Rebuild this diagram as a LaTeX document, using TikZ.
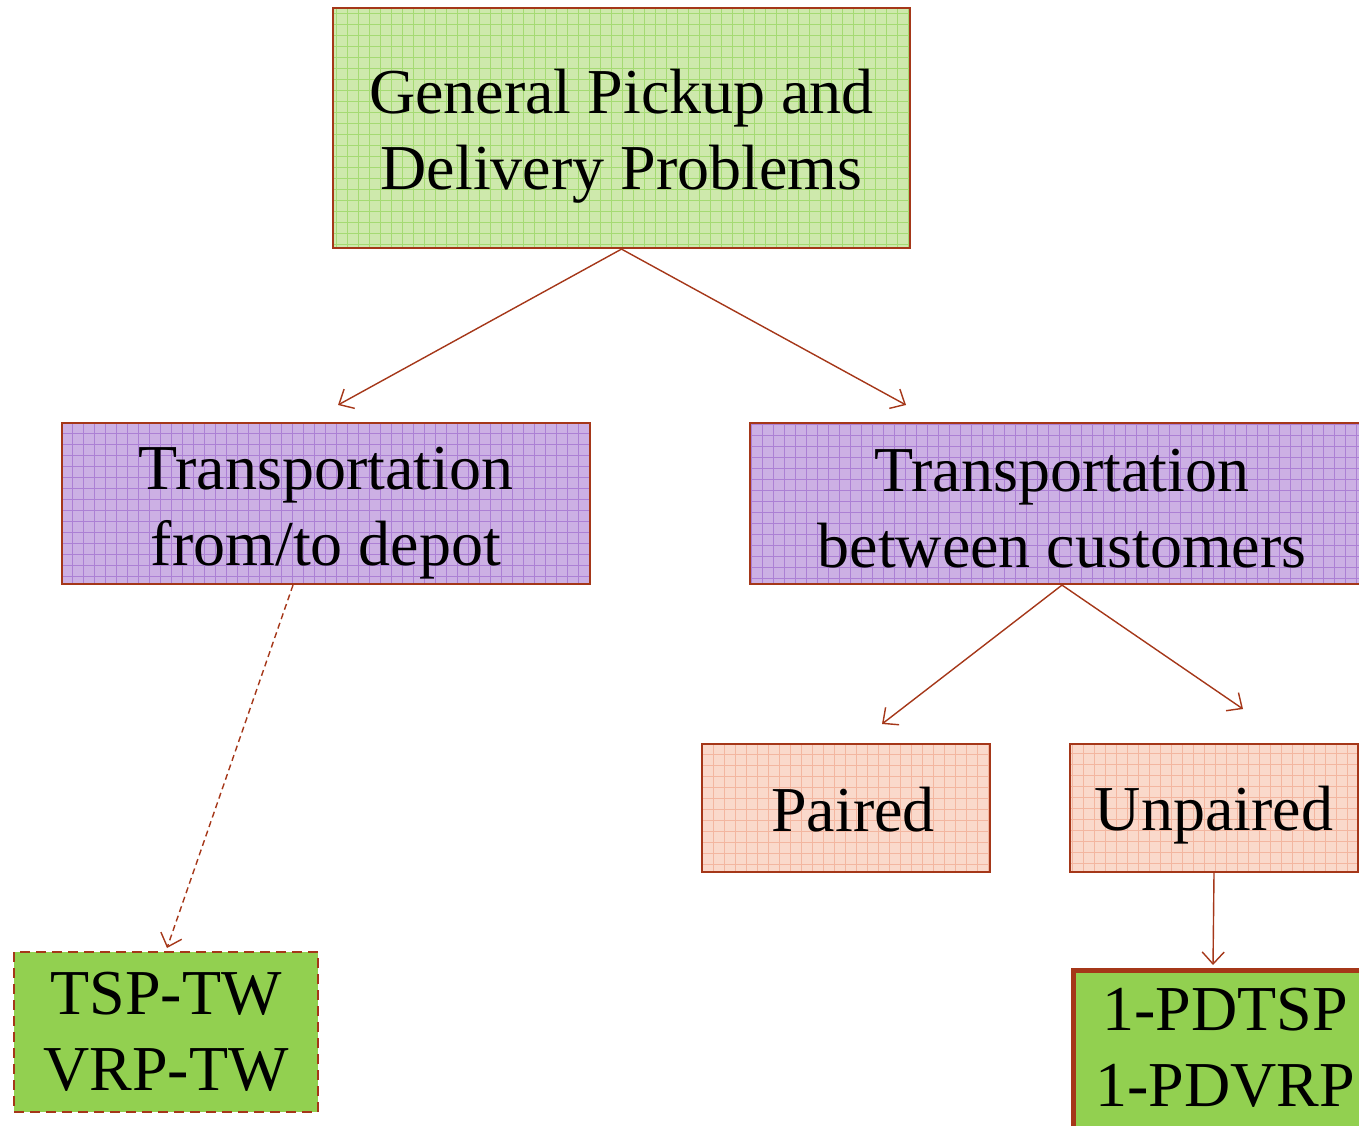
\documentclass[tikz,border=0pt]{standalone}
\usepackage{fontspec}
\setmainfont{Liberation Serif}
\usetikzlibrary{arrows.meta}

\definecolor{edgered}{RGB}{165,55,25}
\definecolor{greenbg}{RGB}{206,233,172}
\definecolor{greenln}{RGB}{165,218,115}
\definecolor{purplebg}{RGB}{204,176,228}
\definecolor{purpleln}{RGB}{172,128,212}
\definecolor{pinkbg}{RGB}{250,217,203}
\definecolor{pinkln}{RGB}{243,182,160}
\definecolor{solidgreen}{RGB}{146,208,80}

% invisible strut: a taller first line lowers the text block in its box
\newcommand\tallstrut[1]{\rule{0pt}{#1}}

\tikzset{
  box/.style={draw=edgered, line width=2.2pt, inner sep=0pt, align=center,
    font=\fontsize{64}{76}\selectfont, text=black},
  meshed/.style 2 args={box, fill=#1,
    path picture={\draw[#2, line width=1pt]
      (path picture bounding box.south west) grid[step=11pt]
      (path picture bounding box.north east);}},
  greenmesh/.style={meshed={greenbg}{greenln}},
  purplemesh/.style={meshed={purplebg}{purpleln}},
  pinkmesh/.style={meshed={pinkbg}{pinkln}},
  result/.style={box, fill=solidgreen},
  conn/.style={draw=edgered, line width=1.4pt,
    -{Straight Barb[length=12pt, width=22pt, line width=1.4pt]}},
}

\begin{document}
\begin{tikzpicture}[x=1pt, y=-1pt]
\useasboundingbox (0,0) rectangle (1359,1126);
\clip (0,0) rectangle (1359,1126);

% problem classes
\node[greenmesh, minimum width=577pt, minimum height=240pt] (gpdp) at (621.5,128)
  {\tallstrut{60pt}General Pickup and\\Delivery Problems};
\node[purplemesh, minimum width=528pt, minimum height=161pt] (depot) at (326,503.5)
  {\tallstrut{62pt}Transportation\\from/to depot};
\node[purplemesh, minimum width=624pt, minimum height=161pt] (cust) at (1062,503.5)
  {\tallstrut{52pt}Transportation\\between customers};
\node[pinkmesh, minimum width=288pt, minimum height=128pt] (paired) at (846,808)
  {\tallstrut{48pt}\hspace*{14pt}Paired};
\node[pinkmesh, minimum width=288pt, minimum height=128pt] (unpaired) at (1214,808)
  {\tallstrut{58pt}Unpaired};

% concrete problems
\node[result, dash pattern=on 10pt off 6pt, line width=2.4pt,
  minimum width=304pt, minimum height=160pt] (tsptw) at (166,1032)
  {TSP-TW\\VRP-TW};
\node[result, line width=5pt, minimum width=304pt, minimum height=170pt,
  anchor=north west] (pdtsp) at (1070.5,967.5)
  {\raisebox{16pt}{1-PDTSP}\\\raisebox{16pt}{1-PDVRP}};

% arrow tips
\coordinate (tipdepot) at (338,405);
\coordinate (tipcust) at (906,405);
\coordinate (tiptsp) at (167,948);
\coordinate (tippaired) at (882,724);
\coordinate (tipunpaired) at (1243,709);
\coordinate (tippd) at (1213,965);

\draw[conn] (gpdp.south) -- (tipdepot);
\draw[conn] (gpdp.south) -- (tipcust);
\draw[conn, dash pattern=on 6pt off 4pt] ([xshift=-33pt]depot.south) -- (tiptsp);
\draw[conn] (cust.south) -- (tippaired);
\draw[conn] (cust.south) -- (tipunpaired);
\draw[conn] (unpaired.south) -- (tippd);
\end{tikzpicture}
\end{document}
